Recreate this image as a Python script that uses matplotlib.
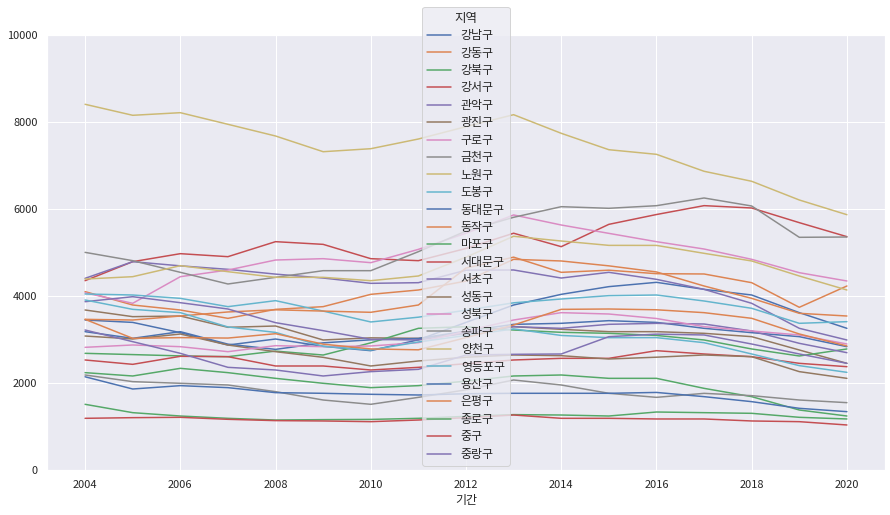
import matplotlib
matplotlib.use("Agg")
import matplotlib.pyplot as plt
import seaborn as sns

sns.set_theme(style="darkgrid")
plt.rcParams['font.family'] = ['Noto Sans CJK KR', 'DejaVu Sans']
plt.rcParams['axes.unicode_minus'] = False

years = list(range(2004, 2021))

############ values per district
gangnam = [3455, 3400, 3164, 2880, 3018, 2850, 2750, 3000, 3400, 3800, 4045, 4222, 4321, 4160, 4030, 3624, 3264]
gangdong = [4107, 3800, 3685, 3493, 3700, 3762, 4045, 4145, 4350, 4850, 4812, 4700, 4560, 4237, 3953, 3609, 3547]
gangbuk = [2245, 2168, 2344, 2245, 2114, 2000, 1900, 1946, 2050, 2168, 2191, 2114, 2114, 1884, 1693, 1386, 1248]
gangseo = [4359, 4796, 4980, 4911, 5256, 5194, 4865, 4819, 5100, 5450, 5141, 5654, 5880, 6084, 6030, 5693, 5371]
gwanak = [4413, 4796, 4700, 4620, 4510, 4420, 4298, 4313, 4600, 4605, 4420, 4551, 4390, 4160, 3839, 3264, 2996]
gwangjin = [3685, 3532, 3547, 3287, 3317, 2996, 3045, 3034, 3150, 3302, 3241, 3187, 3187, 3149, 3072, 2766, 2459]
guro = [4080, 3839, 4451, 4604, 4834, 4865, 4773, 5079, 5450, 5870, 5639, 5447, 5256, 5087, 4850, 4543, 4352]
geumcheon = [2191, 2038, 2000, 1961, 1808, 1616, 1517, 1677, 1850, 2076, 1961, 1770, 1677, 1769, 1716, 1616, 1555]
nowon = [8414, 8161, 8221, 7954, 7685, 7324, 7393, 7616, 7900, 8175, 7747, 7370, 7264, 6874, 6644, 6214, 5876]
dobong = [4053, 4030, 3953, 3762, 3900, 3660, 3410, 3520, 3680, 3850, 3938, 4015, 4030, 3892, 3724, 3379, 3417]
dongdaemun = [3187, 3034, 3187, 2900, 2780, 2930, 3000, 3030, 3200, 3355, 3379, 3440, 3400, 3264, 3164, 3072, 2842]
dongjak = [3470, 3455, 3547, 3640, 3690, 3660, 3632, 3800, 4650, 4900, 4551, 4600, 4520, 4513, 4313, 3747, 4237]
mapo = [2689, 2660, 2630, 2612, 2740, 2650, 2930, 3264, 3300, 3225, 3172, 3149, 3100, 2996, 2789, 2628, 2789]
seodaemun = [2536, 2436, 2620, 2612, 2398, 2398, 2306, 2367, 2450, 2536, 2574, 2574, 2750, 2674, 2612, 2459, 2382]
seocho = [3876, 3991, 3853, 3708, 3394, 3210, 3011, 2996, 3150, 3302, 3264, 3356, 3378, 3363, 3203, 2919, 2704]
seongdong = [3087, 3019, 3133, 2880, 2727, 2597, 2398, 2513, 2600, 2651, 2635, 2559, 2600, 2651, 2612, 2268, 2114]
seongbuk = [2827, 2881, 2842, 2727, 2865, 2842, 2858, 2934, 3200, 3455, 3624, 3593, 3490, 3302, 3203, 3111, 2904]
songpa = [5010, 4819, 4551, 4283, 4436, 4589, 4589, 5026, 5500, 5816, 6060, 6023, 6083, 6260, 6076, 5356, 5363]
yangcheon = [4397, 4451, 4704, 4566, 4436, 4436, 4359, 4467, 4900, 5380, 5271, 5171, 5170, 4988, 4812, 4467, 4145]
yeongdeungpo = [3915, 3700, 3624, 3295, 3170, 2850, 2766, 2950, 3100, 3250, 3100, 3049, 3050, 2934, 2674, 2406, 2252]
yongsan = [2150, 1869, 1946, 1900, 1785, 1770, 1747, 1731, 1760, 1770, 1770, 1770, 1790, 1693, 1578, 1425, 1348]
eunpyeong = [3470, 3034, 3050, 3040, 3140, 2900, 2790, 2770, 3050, 3340, 3700, 3708, 3690, 3624, 3494, 3134, 2858]
jongno = [1517, 1325, 1248, 1195, 1156, 1165, 1170, 1195, 1240, 1280, 1271, 1248, 1340, 1325, 1310, 1218, 1180]
junggu = [1195, 1210, 1218, 1172, 1142, 1134, 1118, 1156, 1210, 1271, 1195, 1195, 1180, 1180, 1134, 1118, 1042]
jungnang = [3225, 2957, 2689, 2367, 2306, 2168, 2268, 2321, 2650, 2666, 2674, 3072, 3130, 3111, 2903, 2674, 2459]

labels = ["강남구", "강동구", "강북구", "강서구", "관악구", "광진구", "구로구", "금천구",
          "노원구", "도봉구", "동대문구", "동작구", "마포구", "서대문구", "서초구", "성동구",
          "성북구", "송파구", "양천구", "영등포구", "용산구", "은평구", "종로구", "중구", "중랑구"]

series = [gangnam, gangdong, gangbuk, gangseo, gwanak, gwangjin, guro, geumcheon,
          nowon, dobong, dongdaemun, dongjak, mapo, seodaemun, seocho, seongdong,
          seongbuk, songpa, yangcheon, yeongdeungpo, yongsan, eunpyeong, jongno, junggu, jungnang]

colors = sns.color_palette("deep", 10)

fig = plt.figure(figsize=(890/72, 515/72), dpi=72)
ax = fig.add_axes([47/890, 1-470.3/515, (885-47)/890, (470.3-35.3)/515])

for i in range(len(series)):
    ax.plot(years, series[i], color=colors[i % 10], linewidth=1.5, label=labels[i])

ax.set_ylim(0, 10000)
ax.set_xlim(2003.2, 2020.8)
ax.set_xticks(range(2004, 2021, 2))
ax.set_yticks(range(0, 10001, 2000))
ax.tick_params(labelsize=11)
ax.set_xlabel("기간", fontsize=12)

ax.legend(title="지역", loc="lower center", fontsize=12, title_fontsize=12.5,
          labelspacing=0.37, borderaxespad=0.4)

fig.savefig("out.png", dpi=72)
